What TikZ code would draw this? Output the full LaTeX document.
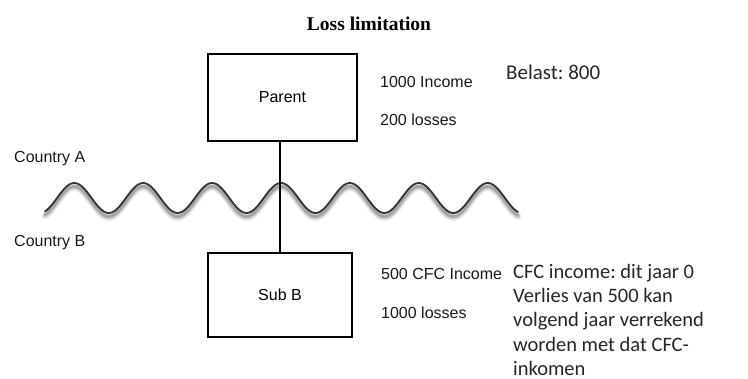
\documentclass[tikz,border=0pt]{standalone}
\usepackage{fontspec}
\setmainfont{Liberation Sans}
\newfontfamily\calfont{Carlito}
\newfontfamily\serffont{Liberation Serif}
\frenchspacing
\begin{document}
\begin{tikzpicture}[x=1pt,y=-1pt,
  box/.style={draw=black, line width=1.3pt, inner sep=0pt, font=\fontsize{16}{18}\selectfont},
  lbl/.style={anchor=base west, inner sep=0pt, font=\fontsize{16}{18}\selectfont, text=black!90},
  cal/.style={anchor=base west, inner sep=0pt, font=\calfont\fontsize{20.5}{24.2}\selectfont, text=black!85, align=left}]
\useasboundingbox (0,0) rectangle (748,379);
% title
\node[inner sep=0pt, font=\serffont\bfseries\fontsize{19.5}{22}\selectfont] (title) at (369,24) {Loss limitation};
% wave shadow
\foreach \o/\w/\op in {4.5/7/0.07, 4/5/0.12, 3.5/3/0.2}{
  \draw[black, line width=\w pt, opacity=\op, line cap=round]
    plot[domain=45:518, samples=240, smooth] (\x, {198+\o-15*cos(5.225*(\x-281))});
}
% wave
\draw[black!80, line width=1.8pt, line cap=round]
  plot[domain=45:518, samples=240, smooth] (\x, {198-15*cos(5.225*(\x-281))});
% boxes
\node[box, minimum width=149pt, minimum height=87pt] (parent) at (282.5,97.5) {Parent};
\node[box, minimum width=144pt, minimum height=84pt] (sub) at (280,295) {Sub B};
\draw[line width=1.3pt] (sub.north |- parent.south) -- (sub.north);
% labels
\node[lbl] (pinc) at (380,88) {1000 Income};
\node[lbl] (plos) at (380,126) {200 losses};
\node[lbl] (sinc) at (381,280) {500 CFC Income};
\node[lbl] (slos) at (381,319) {1000 losses};
\node[lbl] (ca) at (14,163) {Country A};
\node[lbl] (cb) at (14,247) {Country B};
\node[cal, font=\calfont\fontsize{21}{24}\selectfont] (belast) at (506,80) {Belast: 800};
\node[cal, anchor=north west] (cfc) at (513,264) {CFC income: dit jaar 0\\Verlies van 500 kan\\volgend jaar verrekend\\worden met dat CFC-\\inkomen};
\end{tikzpicture}
\end{document}
